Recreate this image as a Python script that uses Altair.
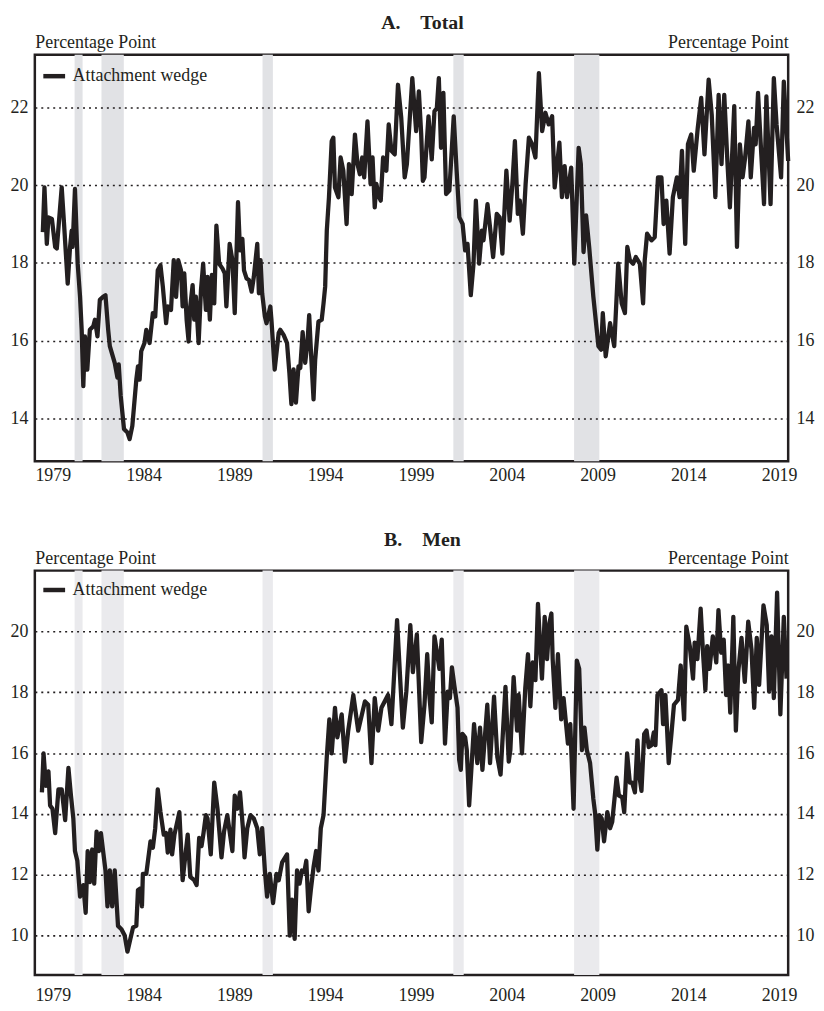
import altair as alt
import pandas as pd

FONT = "Liberation Serif"
INK = "#231f20"

# ---------------- data ----------------
years_total = [1978.45, 1978.54, 1978.67, 1978.76, 1978.95, 1979.13, 1979.22, 1979.49, 1979.62, 1979.82,
               1979.95, 1980.04, 1980.09, 1980.22, 1980.37, 1980.50, 1980.59, 1980.68, 1980.77, 1980.90,
               1981.04, 1981.23, 1981.32, 1981.46, 1981.59, 1981.77, 1981.90, 1982.05, 1982.14, 1982.41,
               1982.56, 1982.63, 1982.74, 1982.92, 1983.11, 1983.23, 1983.38, 1983.60, 1983.69, 1983.78,
               1983.87, 1984.05, 1984.15, 1984.33, 1984.51, 1984.64, 1984.78, 1984.93, 1985.06, 1985.24,
               1985.33, 1985.51, 1985.66, 1985.79, 1985.91, 1986.06, 1986.15, 1986.24, 1986.37, 1986.48,
               1986.57, 1986.70, 1986.79, 1986.88, 1987.03, 1987.16, 1987.28, 1987.43, 1987.52, 1987.65,
               1987.76, 1987.89, 1988.01, 1988.16, 1988.34, 1988.47, 1988.56, 1988.74, 1988.89, 1989.02,
               1989.20, 1989.31, 1989.44, 1989.53, 1989.67, 1989.80, 1989.95, 1990.07, 1990.26, 1990.35,
               1990.44, 1990.53, 1990.68, 1990.77, 1990.98, 1991.04, 1991.22, 1991.44, 1991.53, 1991.71,
               1991.90, 1992.03, 1992.14, 1992.26, 1992.39, 1992.53, 1992.63, 1992.76, 1992.90, 1993.03,
               1993.12, 1993.23, 1993.36, 1993.45, 1993.63, 1993.81, 1993.91, 1994.00, 1994.09, 1994.21,
               1994.36, 1994.45, 1994.54, 1994.73, 1994.85, 1995.00, 1995.18, 1995.31, 1995.46, 1995.64,
               1995.78, 1995.91, 1996.04, 1996.15, 1996.33, 1996.50, 1996.61, 1996.73, 1996.82, 1996.97,
               1997.06, 1997.19, 1997.37, 1997.50, 1997.65, 1997.83, 1998.01, 1998.19, 1998.38, 1998.50,
               1998.80, 1999.01, 1999.16, 1999.29, 1999.38, 1999.47, 1999.69, 1999.87, 2000.02, 2000.15,
               2000.26, 2000.38, 2000.51, 2000.66, 2000.84, 2001.08, 2001.24, 2001.39, 2001.57, 2001.71,
               2001.84, 2002.02, 2002.17, 2002.30, 2002.48, 2002.63, 2002.72, 2002.94, 2003.06, 2003.25,
               2003.45, 2003.61, 2003.76, 2003.98, 2004.16, 2004.31, 2004.45, 2004.61, 2004.72, 2004.89,
               2005.04, 2005.22, 2005.40, 2005.58, 2005.77, 2005.95, 2006.13, 2006.31, 2006.50, 2006.64,
               2006.90, 2007.04, 2007.19, 2007.32, 2007.55, 2007.72, 2007.96, 2008.08, 2008.23, 2008.37,
               2008.54, 2008.77, 2009.05, 2009.20, 2009.29, 2009.45, 2009.69, 2009.92, 2010.14, 2010.33,
               2010.51, 2010.64, 2010.78, 2010.96, 2011.11, 2011.33, 2011.51, 2011.60, 2011.73, 2011.97,
               2012.15, 2012.33, 2012.52, 2012.64, 2012.79, 2012.97, 2013.15, 2013.37, 2013.52, 2013.65,
               2013.83, 2013.98, 2014.16, 2014.30, 2014.52, 2014.71, 2014.89, 2015.12, 2015.29, 2015.49,
               2015.67, 2015.83, 2015.98, 2016.16, 2016.29, 2016.53, 2016.68, 2016.84, 2016.99, 2017.13,
               2017.31, 2017.44, 2017.62, 2017.71, 2017.84, 2018.02, 2018.17, 2018.30, 2018.53, 2018.71,
               2018.86, 2019.11, 2019.26, 2019.50]
values_total = [18.79, 19.94, 18.49, 19.17, 19.13, 18.41, 18.37, 19.94, 19.00, 17.47,
                18.41, 18.83, 18.41, 19.90, 17.98, 17.13, 16.28, 14.83, 16.11, 15.26,
                16.28, 16.37, 16.54, 16.11, 17.05, 17.13, 17.17, 16.28, 15.86, 15.43,
                15.05, 15.39, 14.58, 13.73, 13.64, 13.47, 13.81, 15.00, 15.34, 15.00,
                15.73, 15.94, 16.28, 15.94, 16.71, 16.62, 17.81, 17.94, 17.39, 16.45,
                16.88, 16.79, 18.07, 17.13, 18.07, 17.81, 16.88, 17.73, 16.54, 15.98,
                16.88, 17.43, 16.54, 17.13, 15.94, 17.30, 17.98, 16.79, 17.64, 16.54,
                17.69, 16.96, 18.96, 17.98, 17.86, 17.73, 16.88, 18.49, 18.07, 16.71,
                19.56, 18.32, 18.62, 17.81, 17.60, 17.56, 17.26, 17.64, 18.49, 17.22,
                18.07, 17.22, 16.62, 16.45, 16.88, 16.54, 15.26, 16.20, 16.28, 16.15,
                15.94, 15.17, 14.37, 15.26, 14.41, 15.34, 15.30, 16.22, 15.43, 15.98,
                16.66, 15.60, 14.49, 15.51, 16.49, 16.54, 16.96, 17.39, 18.83, 19.69,
                21.13, 21.22, 19.94, 19.69, 20.71, 20.37, 19.00, 20.54, 19.77, 21.30,
                20.54, 20.28, 20.71, 20.20, 21.64, 20.03, 20.71, 19.43, 20.03, 19.69,
                19.60, 20.71, 20.37, 21.56, 20.88, 20.79, 22.58, 21.73, 20.20, 20.54,
                22.75, 21.39, 22.41, 21.30, 20.11, 20.20, 21.77, 20.66, 21.90, 21.98,
                22.75, 20.96, 22.37, 19.77, 19.86, 21.77, 20.37, 19.17, 19.00, 18.32,
                18.49, 17.17, 17.98, 19.60, 17.98, 18.83, 18.58, 19.51, 19.00, 18.15,
                19.26, 19.17, 18.24, 20.37, 19.09, 20.03, 21.13, 19.26, 19.60, 18.75,
                20.03, 21.22, 21.05, 20.71, 22.88, 21.39, 21.86, 21.56, 21.77, 19.94,
                21.09, 19.69, 20.49, 19.69, 20.45, 17.98, 20.96, 20.54, 18.28, 19.22,
                18.41, 17.13, 15.86, 15.77, 16.71, 15.60, 16.45, 15.86, 17.98, 16.96,
                16.71, 18.41, 18.07, 17.98, 18.15, 17.98, 16.96, 18.07, 18.75, 18.58,
                18.66, 20.20, 20.20, 19.00, 19.60, 18.24, 19.69, 20.20, 19.69, 20.88,
                18.49, 21.05, 21.30, 20.37, 21.47, 22.24, 20.79, 22.71, 21.81, 19.69,
                22.32, 20.54, 22.32, 20.54, 19.43, 22.03, 18.41, 21.05, 20.20, 20.71,
                21.64, 20.20, 21.47, 21.05, 22.37, 20.79, 19.51, 22.28, 19.51, 22.75,
                21.56, 20.20, 22.66, 20.62]

years_men = [1978.40, 1978.49, 1978.62, 1978.76, 1978.85, 1978.98, 1979.13, 1979.31, 1979.49, 1979.68,
             1979.86, 1980.00, 1980.13, 1980.22, 1980.35, 1980.50, 1980.68, 1980.81, 1980.92, 1981.04,
             1981.17, 1981.28, 1981.41, 1981.54, 1981.65, 1981.77, 1981.90, 1982.01, 1982.14, 1982.27,
             1982.41, 1982.59, 1982.78, 1982.96, 1983.11, 1983.27, 1983.42, 1983.60, 1983.69, 1983.83,
             1983.91, 1983.96, 1984.15, 1984.38, 1984.51, 1984.64, 1984.78, 1984.93, 1985.11, 1985.24,
             1985.33, 1985.48, 1985.57, 1985.70, 1985.97, 1986.15, 1986.43, 1986.57, 1986.79, 1986.92,
             1987.06, 1987.19, 1987.30, 1987.43, 1987.52, 1987.70, 1987.89, 1988.07, 1988.29, 1988.43,
             1988.61, 1988.89, 1989.02, 1989.16, 1989.31, 1989.47, 1989.56, 1989.71, 1989.89, 1990.07,
             1990.26, 1990.40, 1990.53, 1990.68, 1990.80, 1990.95, 1991.13, 1991.32, 1991.44, 1991.63,
             1991.90, 1992.05, 1992.17, 1992.32, 1992.45, 1992.59, 1992.72, 1992.85, 1992.96, 1993.09,
             1993.21, 1993.36, 1993.50, 1993.63, 1993.76, 1993.91, 1994.09, 1994.23, 1994.36, 1994.54,
             1994.67, 1994.91, 1995.09, 1995.27, 1995.55, 1995.82, 1996.19, 1996.37, 1996.55, 1996.73,
             1996.92, 1997.10, 1997.46, 1997.65, 1997.96, 1998.14, 1998.28, 1998.47, 1998.69, 1998.83,
             1999.05, 1999.29, 1999.47, 1999.62, 1999.75, 1999.87, 2000.02, 2000.16, 2000.29, 2000.42,
             2000.60, 2000.75, 2000.87, 2000.98, 2001.11, 2001.29, 2001.38, 2001.47, 2001.56, 2001.71,
             2001.80, 2001.93, 2002.05, 2002.20, 2002.38, 2002.53, 2002.66, 2002.93, 2003.08, 2003.30,
             2003.48, 2003.66, 2003.93, 2004.11, 2004.20, 2004.38, 2004.57, 2004.66, 2004.84, 2005.02,
             2005.17, 2005.30, 2005.43, 2005.58, 2005.72, 2005.85, 2005.94, 2006.09, 2006.22, 2006.35,
             2006.46, 2006.53, 2006.68, 2006.82, 2007.00, 2007.13, 2007.37, 2007.50, 2007.68, 2007.86,
             2007.99, 2008.14, 2008.28, 2008.41, 2008.59, 2008.77, 2008.87, 2008.99, 2009.10, 2009.23,
             2009.36, 2009.54, 2009.69, 2009.81, 2010.05, 2010.18, 2010.36, 2010.47, 2010.63, 2010.78,
             2010.91, 2011.06, 2011.20, 2011.28, 2011.42, 2011.57, 2011.70, 2011.82, 2011.97, 2012.10,
             2012.19, 2012.30, 2012.52, 2012.61, 2012.74, 2012.92, 2013.07, 2013.21, 2013.43, 2013.58,
             2013.77, 2013.89, 2014.08, 2014.26, 2014.35, 2014.50, 2014.68, 2014.81, 2014.94, 2015.04,
             2015.17, 2015.35, 2015.54, 2015.66, 2015.81, 2015.95, 2016.08, 2016.20, 2016.31, 2016.48,
             2016.62, 2016.75, 2016.93, 2017.11, 2017.30, 2017.48, 2017.63, 2017.77, 2017.90, 2018.14,
             2018.32, 2018.45, 2018.58, 2018.71, 2018.89, 2019.07, 2019.26, 2019.41]
values_men = [14.71, 15.99, 14.92, 15.40, 14.28, 14.17, 13.37, 14.81, 14.81, 13.80,
              15.51, 14.60, 13.85, 12.78, 12.46, 11.28, 11.66, 10.75, 12.78, 11.76,
              12.83, 11.71, 13.42, 12.78, 13.37, 12.78, 12.14, 10.96, 12.14, 10.96,
              12.14, 10.32, 10.21, 10.00, 9.47, 9.89, 10.27, 10.32, 11.50, 11.55,
              10.96, 12.03, 12.03, 13.10, 12.89, 13.53, 14.81, 14.06, 13.32, 13.37,
              12.73, 13.48, 12.67, 13.32, 14.06, 11.82, 13.32, 11.93, 11.82, 11.66,
              13.21, 12.94, 13.37, 13.96, 13.85, 12.67, 15.03, 14.17, 12.57, 13.42,
              13.96, 12.78, 14.60, 14.17, 14.71, 13.53, 12.57, 13.53, 13.96, 13.85,
              13.53, 12.67, 13.53, 12.14, 11.28, 12.03, 11.07, 12.03, 11.82, 12.41,
              12.67, 10.00, 11.18, 9.89, 12.14, 11.71, 12.14, 12.09, 12.46, 10.80,
              11.50, 12.25, 12.78, 12.14, 13.53, 13.96, 15.88, 17.11, 15.99, 17.49,
              16.52, 17.27, 15.72, 16.74, 17.91, 16.74, 17.70, 17.59, 15.67, 17.81,
              16.74, 17.49, 17.91, 16.95, 20.37, 18.34, 16.84, 18.02, 20.21, 18.66,
              19.90, 16.36, 17.59, 19.25, 17.81, 17.01, 19.84, 19.30, 18.77, 19.73,
              16.31, 18.02, 17.81, 18.82, 18.24, 17.49, 15.78, 15.45, 16.63, 16.52,
              16.10, 14.28, 15.45, 16.95, 15.67, 16.84, 15.45, 17.59, 15.67, 17.86,
              15.88, 15.29, 18.18, 15.72, 16.10, 18.50, 16.74, 17.91, 15.99, 18.13,
              19.25, 17.54, 18.98, 18.40, 20.91, 19.41, 18.45, 20.48, 19.09, 20.27,
              20.59, 19.09, 17.49, 19.25, 17.11, 17.81, 16.31, 16.95, 14.17, 19.04,
              18.77, 16.10, 16.84, 16.10, 15.67, 14.49, 14.01, 12.83, 13.96, 13.85,
              13.10, 14.06, 13.53, 13.74, 15.19, 14.60, 14.55, 14.06, 15.99, 15.03,
              15.03, 14.71, 16.42, 15.35, 14.76, 16.63, 16.74, 16.20, 16.26, 16.68,
              16.26, 17.91, 18.07, 16.95, 17.91, 15.67, 16.63, 17.59, 17.75, 18.88,
              17.11, 20.16, 19.52, 18.45, 19.63, 19.09, 20.75, 19.30, 18.07, 19.52,
              18.77, 19.84, 18.98, 20.70, 19.30, 19.73, 17.91, 18.88, 17.33, 20.48,
              16.74, 18.66, 19.79, 18.34, 20.32, 19.41, 17.49, 19.79, 18.24, 20.86,
              20.21, 18.02, 19.84, 17.81, 21.28, 17.27, 20.48, 18.45]

recession_start = [1980.20, 1981.68, 1990.55, 2001.06, 2007.71]
recession_end = [1980.64, 1982.91, 1991.12, 2001.63, 2009.10]

year_ticks = [1979, 1984, 1989, 1994, 1999, 2004, 2009, 2014, 2019]
ticks_total = [14, 16, 18, 20, 22]
ticks_men = [10, 12, 14, 16, 18, 20]

SERIES = "Attachment wedge"
PLOT_W = 758
FS = 18


def panel(title, years, values, ydomain, yticks, shade, height, title_offset, legend_y,
          x_label_pad):
    df = pd.DataFrame({"year": years, "value": values, "series": [SERIES] * len(years)})
    rec = pd.DataFrame({"start": recession_start, "end": recession_end})

    xscale = alt.Scale(domain=[1978.01, 2019.50], nice=False, zero=False)
    yscale = alt.Scale(domain=ydomain, nice=False, zero=False)

    xaxis = alt.Axis(values=year_ticks, format="d", title=None, grid=False, domain=False,
                     ticks=False, tickSize=0, labelPadding=x_label_pad, labelFont=FONT,
                     labelFontSize=FS, labelColor=INK)
    left_axis = alt.Axis(values=yticks, format="d", grid=True, gridDash=[2, 4],
                         gridColor=INK, gridWidth=1.6, gridOpacity=1, domain=False,
                         ticks=False, tickSize=0, labelPadding=7, labelFont=FONT,
                         labelFontSize=FS, labelColor=INK, zindex=1,
                         title="Percentage Point", titleAngle=0, titleAlign="left",
                         titleBaseline="alphabetic", titleX=0, titleY=-7, titleFont=FONT,
                         titleFontSize=FS, titleFontWeight="normal", titleColor=INK)
    right_axis = alt.Axis(orient="right", values=yticks, format="d", grid=False,
                          domain=False, ticks=False, tickSize=0, labelPadding=8, labelFont=FONT,
                          labelFontSize=FS, labelColor=INK,
                          title="Percentage Point", titleAngle=0, titleAlign="right",
                          titleBaseline="alphabetic", titleX=0, titleY=-7, titleFont=FONT,
                          titleFontSize=FS, titleFontWeight="normal", titleColor=INK)

    shading = alt.Chart(rec).mark_rect(color=shade).encode(
        x=alt.X("start:Q", scale=xscale, axis=xaxis),
        x2="end:Q",
    )
    line = alt.Chart(df).mark_line(strokeWidth=4.3, strokeJoin="round").encode(
        x=alt.X("year:Q", scale=xscale, axis=xaxis),
        y=alt.Y("value:Q", scale=yscale, axis=left_axis),
        color=alt.Color("series:N", scale=alt.Scale(domain=[SERIES], range=[INK]),
                        legend=alt.Legend(title=None, orient="none", legendX=6, legendY=legend_y,
                                          padding=0, symbolType="stroke", symbolStrokeWidth=4.5,
                                          symbolSize=480, labelFont=FONT, labelFontSize=FS,
                                          labelColor=INK, labelOffset=5)),
    )
    right = alt.Chart(df).mark_line(strokeOpacity=0).encode(
        x=alt.X("year:Q", scale=xscale, axis=xaxis),
        y=alt.Y("value:Q", scale=yscale, axis=right_axis),
    )
    return alt.layer(shading, line, right).resolve_scale(y="independent").properties(
        width=PLOT_W, height=height,
        title=alt.TitleParams(title, font=FONT, fontSize=20, fontWeight="bold",
                              color=INK, anchor="middle", offset=title_offset, dx=11),
    )


panel_a = panel("A.\u2003Total", years_total, values_total, [12.9, 23.35], ticks_total,
                "#e1e2e5", 409, 1, 8, 5)
panel_b = panel("B.\u2003Men", years_men, values_men, [8.7, 22.0], ticks_men,
                "#eaeaed", 407, 0, 6, 12)

chart = alt.vconcat(panel_a, panel_b, spacing=42).resolve_scale(color="independent").configure(
    padding={"left": 0, "top": 0, "right": 0, "bottom": 0}
).configure_view(stroke=INK, strokeWidth=2.5)

chart.save("out.html", embed_options={"renderer": "svg", "actions": False})
